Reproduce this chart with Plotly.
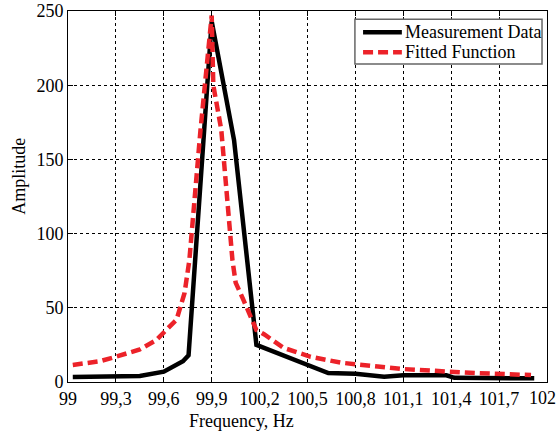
import plotly.graph_objects as go

meas_freq = [99.03, 99.26, 99.45, 99.6, 99.72, 99.755, 99.9, 100.04, 100.18,
             100.63, 100.8, 100.98, 101.1, 101.37, 101.42, 101.92]
meas_amp = [3.4, 3.5, 4.0, 7.0, 14.0, 18.0, 243.0, 163.0, 25.0,
            6.0, 5.5, 3.5, 4.5, 4.5, 2.8, 2.5]

# Fitted function
fit_freq = [99.03, 99.2, 99.3, 99.45, 99.55, 99.6, 99.68, 99.73, 99.76, 99.83,
            99.86, 99.9, 99.91, 99.96, 100.03, 100.05, 100.1, 100.18, 100.23,
            100.35, 100.52, 100.71, 100.94, 101.09, 101.3, 101.55, 101.9]
fit_amp = [11.5, 14, 17, 22, 28, 33, 42, 60, 82, 170,
           200, 247, 200, 170, 82, 67, 55, 35, 32,
           23, 17, 13, 10.5, 8.8, 7.5, 6.0, 4.7]

x_ticks = [99, 99.3, 99.6, 99.9, 100.2, 100.5, 100.8, 101.1, 101.4, 101.7, 102]
x_labels = ["99", "99,3", "99,6", "99,9", "100,2", "100,5", "100,8", "101,1",
            "101,4", "101,7", "102"]
y_ticks = [0, 50, 100, 150, 200, 250]

series_names = ["Measurement Data", "Fitted Function"]
series_colors = ["black", "#ec2229"]

FONT = "Liberation Serif"
FS = 18

fig = go.Figure()
fig.add_trace(go.Scatter(x=meas_freq, y=meas_amp, mode="lines",
                         name=series_names[0],
                         line=dict(color=series_colors[0], width=4.5)))
fig.add_trace(go.Scatter(x=fit_freq, y=fit_amp, mode="lines",
                         name=series_names[1],
                         line=dict(color=series_colors[1], width=4.5, dash="10px,5px")))

axis_common = dict(showline=True, linecolor="black", linewidth=1, mirror="ticks",
                   ticks="inside", ticklen=5, tickcolor="black",
                   showgrid=True, gridcolor="black", griddash="dot", gridwidth=1,
                   zeroline=False, automargin=False, ticklabeloverflow="allow",
                   tickfont=dict(family=FONT, size=FS, color="black"))

# Hand-drawn legend (box, sample lines, labels) in paper coordinates
legend_box = dict(x0=0.599, x1=0.9896, y0=0.857, y1=0.978)
row_y = [0.943, 0.889]
shapes = [dict(type="rect", xref="paper", yref="paper", layer="above",
               fillcolor="white", line=dict(color="#666666", width=1.5), **legend_box)]
annotations = []
for i, (nm, col) in enumerate(zip(series_names, series_colors)):
    shapes.append(dict(type="line", xref="paper", yref="paper", layer="above",
                       x0=0.616, x1=0.697, y0=row_y[i], y1=row_y[i],
                       line=dict(color=col, width=4.5,
                                 dash="solid" if i == 0 else "10px,5px")))
    annotations.append(dict(text=nm, xref="paper", yref="paper", x=0.699, y=row_y[i],
                            xanchor="left", yanchor="middle", showarrow=False,
                            font=dict(family=FONT, size=FS, color="black")))

# Last tick label drawn right-anchored so it stays inside the picture
shown_labels = x_labels[:-1] + [""]
annotations.append(dict(text=x_labels[-1], xref="x", yref="paper", x=x_ticks[-1],
                        y=-0.043, xanchor="right", yanchor="middle", xshift=11,
                        showarrow=False, font=dict(family=FONT, size=FS, color="black")))

annotations.append(dict(text="Frequency, Hz", xref="paper", yref="paper",
                        x=0.363, y=-0.105, xanchor="center", yanchor="middle",
                        showarrow=False, font=dict(family=FONT, size=FS, color="black")))
annotations.append(dict(text="Amplitude", xref="paper", yref="paper",
                        x=-0.103, y=0.555, xanchor="center", yanchor="middle",
                        textangle=-90, showarrow=False,
                        font=dict(family=FONT, size=FS, color="black")))

fig.update_layout(
    width=558, height=439,
    margin=dict(l=68, r=11, t=11, b=57),
    paper_bgcolor="white", plot_bgcolor="white",
    font=dict(family=FONT, size=FS, color="black"),
    showlegend=False,
    shapes=shapes, annotations=annotations,
    xaxis=dict(range=[99, 102], tickvals=x_ticks, ticktext=shown_labels, **axis_common),
    yaxis=dict(range=[0, 250], tickvals=y_ticks, **axis_common),
)

fig.write_html("out.html", config={"displayModeBar": False},
               post_script="document.body.style.margin='0px';document.body.style.overflow='hidden';")
